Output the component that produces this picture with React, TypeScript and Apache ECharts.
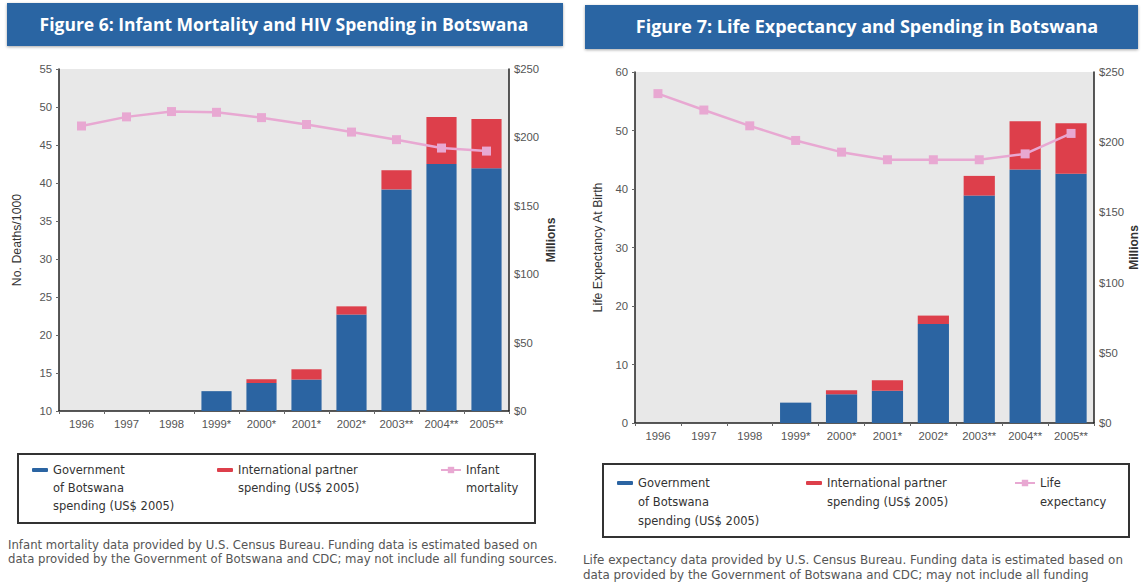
import React, { useEffect, useRef } from 'react';
import * as echarts from 'echarts';

const years = ['1996', '1997', '1998', '1999*', '2000*', '2001*', '2002*', '2003**', '2004**', '2005**'];
const govSpending = [null, null, null, 14.5, 20.5, 23, 70.5, 162, 180.5, 177.5];
const intlSpending = [null, null, null, null, 2.8, 7.5, 6, 14, 34.5, 36];
const infantMortality = [47.5, 48.7, 49.4, 49.3, 48.6, 47.7, 46.7, 45.7, 44.6, 44.2];
const lifeExpectancy = [56.3, 53.5, 50.8, 48.3, 46.3, 45.0, 45.0, 45.0, 46.0, 49.5];

const GOV = 'Government of Botswana spending (US$ 2005)';
const INTL = 'International partner spending (US$ 2005)';
const INFANT = 'Infant mortality';
const LIFE = 'Life expectancy';

const legendLines: Record<string, string[]> = {
  [GOV]: ['Government', 'of Botswana', 'spending (US$ 2005)'],
  [INTL]: ['International partner', 'spending (US$ 2005)'],
  [INFANT]: ['Infant', 'mortality'],
  [LIFE]: ['Life', 'expectancy'],
};

const BLUE = '#2b64a2';
const RED = '#dd3f4b';
const PINK = '#e8a8d2';
const NARROW = "'Liberation Sans Narrow', 'Liberation Sans', Arial, sans-serif";
const WIDE = "'DejaVu Sans', 'Liberation Sans', sans-serif";
const TITLE_FONT = "'Open Sans', 'Noto Sans', sans-serif";

function legendItem(name: string, left: number, iconY: number, lh: number, kind: 'bar' | 'line') {
  const n = legendLines[name].length;
  const top = iconY - ((2 * n - 1) * lh) / 2;
  return {
    show: true,
    data: [name],
    left,
    top,
    orient: 'horizontal',
    padding: 0,
    selectedMode: false,
    itemWidth: kind === 'bar' ? 16 : 20,
    itemHeight: kind === 'bar' ? 4 : 8,
    icon: kind === 'bar' ? 'roundRect' : undefined,
    formatter: (nm: string) => '\n'.repeat(legendLines[nm].length - 1) + legendLines[nm].join('\n'),
    textStyle: {
      fontFamily: WIDE,
      fontSize: 11.5,
      color: '#333',
      lineHeight: lh,
    },
  };
}

function catAxis(gridIndex: number) {
  return {
    type: 'category',
    gridIndex,
    data: years,
    axisLine: { show: true, lineStyle: { color: '#222', width: 1.5 } },
    axisTick: { show: true, length: 3, lineStyle: { color: '#666' } },
    axisLabel: { fontFamily: NARROW, fontSize: 11.3, color: '#555', margin: 7, interval: 0 },
    splitLine: { show: false },
  };
}

function valAxis(gridIndex: number, pos: 'left' | 'right', min: number, max: number, interval: number, name: string, nameGap: number, fmt?: string) {
  return {
    type: 'value',
    gridIndex,
    position: pos,
    min,
    max,
    interval,
    name,
    nameLocation: 'middle',
    nameGap,
    nameTextStyle: {
      fontFamily: NARROW,
      fontSize: pos === 'right' ? 12 : 12.3,
      color: '#333',
      fontWeight: pos === 'right' ? 'bold' : 'normal',
    },
    axisLine: { show: true, lineStyle: { color: '#222', width: 1.5 } },
    axisTick: { show: pos === 'left', length: 3, lineStyle: { color: '#666' } },
    axisLabel: {
      fontFamily: NARROW,
      fontSize: 11.3,
      color: '#555',
      margin: pos === 'left' ? 7 : 5,
      formatter: fmt ? (v: number) => fmt + v : undefined,
    },
    splitLine: { show: false },
  };
}

export default function App() {
  const ref = useRef<HTMLDivElement>(null);
  useEffect(() => {
    if (!ref.current) return;
    const chart = echarts.init(ref.current, undefined, { renderer: 'svg' });
    const option: any = {
      animation: false,
      backgroundColor: '#ffffff',
      grid: [
        { left: 59, top: 69, width: 450, height: 342, show: true, backgroundColor: '#e8e8e8', borderWidth: 0 },
        { left: 635, top: 72, width: 459, height: 351, show: true, backgroundColor: '#e8e8e8', borderWidth: 0 },
      ],
      xAxis: [catAxis(0), catAxis(1)],
      yAxis: [
        valAxis(0, 'left', 10, 55, 5, 'No. Deaths/1000', 36),
        valAxis(0, 'right', 0, 250, 50, 'Millions', 36, '$'),
        valAxis(1, 'left', 0, 60, 10, 'Life Expectancy At Birth', 31),
        valAxis(1, 'right', 0, 250, 50, 'Millions', 32, '$'),
      ],
      legend: [
        legendItem(GOV, 32, 470, 18, 'bar'),
        legendItem(INTL, 217, 470, 18, 'bar'),
        legendItem(INFANT, 440, 470, 18, 'line'),
        legendItem(GOV, 617, 483, 19, 'bar'),
        legendItem(INTL, 806, 483, 19, 'bar'),
        legendItem(LIFE, 1014, 483, 19, 'line'),
      ],
      series: [
        { name: GOV, type: 'bar', xAxisIndex: 0, yAxisIndex: 1, stack: 'a', data: govSpending, barCategoryGap: '33%', itemStyle: { color: BLUE } },
        { name: INTL, type: 'bar', xAxisIndex: 0, yAxisIndex: 1, stack: 'a', data: intlSpending, barCategoryGap: '33%', itemStyle: { color: RED } },
        { name: INFANT, type: 'line', xAxisIndex: 0, yAxisIndex: 0, data: infantMortality, symbol: 'rect', symbolSize: 9, lineStyle: { color: PINK, width: 2.5 }, itemStyle: { color: PINK } },
        { name: GOV, type: 'bar', xAxisIndex: 1, yAxisIndex: 3, stack: 'b', data: govSpending, barCategoryGap: '32%', itemStyle: { color: BLUE } },
        { name: INTL, type: 'bar', xAxisIndex: 1, yAxisIndex: 3, stack: 'b', data: intlSpending, barCategoryGap: '32%', itemStyle: { color: RED } },
        { name: LIFE, type: 'line', xAxisIndex: 1, yAxisIndex: 2, data: lifeExpectancy, symbol: 'rect', symbolSize: 9, lineStyle: { color: PINK, width: 2.5 }, itemStyle: { color: PINK } },
      ],
      graphic: [
        { type: 'rect', shape: { x: 7, y: 3, width: 556, height: 43 }, style: { fill: '#2b65a3', shadowBlur: 3, shadowColor: 'rgba(0,0,0,0.35)', shadowOffsetY: 1 } },
        { type: 'text', x: 284, y: 24, style: { text: 'Figure 6: Infant Mortality and HIV Spending in Botswana', fill: '#ffffff', font: `bold 17.5px ${TITLE_FONT}`, align: 'center', verticalAlign: 'middle' } },
        { type: 'rect', shape: { x: 585, y: 5, width: 553, height: 44 }, style: { fill: '#2b65a3', shadowBlur: 3, shadowColor: 'rgba(0,0,0,0.35)', shadowOffsetY: 1 } },
        { type: 'text', x: 867, y: 26, style: { text: 'Figure 7: Life Expectancy and Spending in Botswana', fill: '#ffffff', font: `bold 18px ${TITLE_FONT}`, align: 'center', verticalAlign: 'middle' } },
        { type: 'rect', shape: { x: 18, y: 454, width: 517, height: 69 }, style: { fill: 'none', stroke: '#333', lineWidth: 2 } },
        { type: 'rect', shape: { x: 603, y: 464, width: 526, height: 73 }, style: { fill: 'none', stroke: '#333', lineWidth: 2 } },
        { type: 'text', x: 8, y: 545, style: { text: 'Infant mortality data provided by U.S. Census Bureau. Funding data is estimated based on', fill: '#555', font: `11.7px ${WIDE}`, verticalAlign: 'middle' } },
        { type: 'text', x: 8, y: 559, style: { text: 'data provided by the Government of Botswana and CDC; may not include all funding sources.', fill: '#555', font: `11.7px ${WIDE}`, verticalAlign: 'middle' } },
        { type: 'text', x: 583, y: 560, style: { text: 'Life expectancy data provided by U.S. Census Bureau. Funding data is estimated based on', fill: '#555', font: `11.9px ${WIDE}`, verticalAlign: 'middle' } },
        { type: 'text', x: 583, y: 575, style: { text: 'data provided by the Government of Botswana and CDC; may not include all funding', fill: '#555', font: `11.9px ${WIDE}`, verticalAlign: 'middle' } },
      ],
    };
    chart.setOption(option);
    return () => chart.dispose();
  }, []);
  return <div ref={ref} style={{ position: 'absolute', left: 0, top: 0, width: 1142, height: 584 }} />;
}
